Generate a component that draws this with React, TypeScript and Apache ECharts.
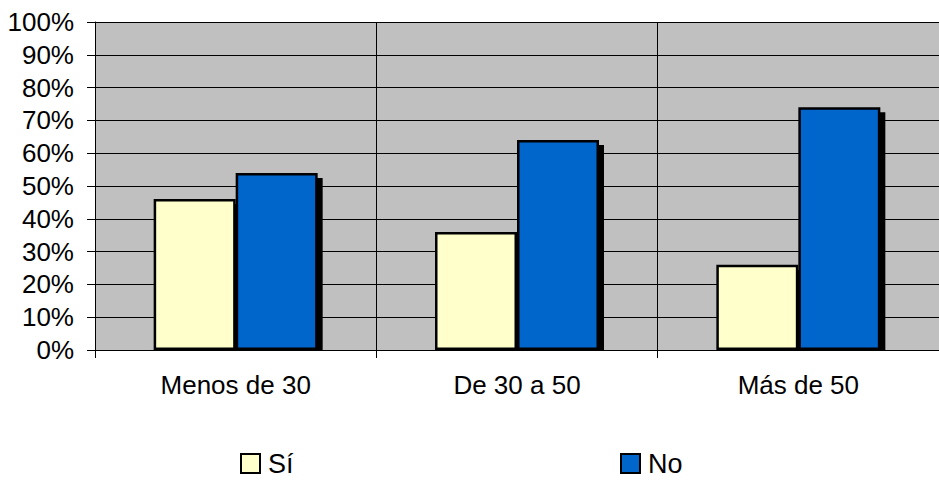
import React, { useEffect, useRef } from "react";
import * as echarts from "echarts";

const categories = ["Menos de 30", "De 30 a 50", "Más de 50"];
const siValues = [46, 36, 26];
const noValues = [54, 64, 74];
const seriesNames = ["Sí", "No"];

export default function App() {
  const ref = useRef<HTMLDivElement>(null);
  useEffect(() => {
    if (!ref.current) return;
    const chart = echarts.init(ref.current, null, { renderer: "svg" });
    const font = "'Liberation Sans', Arial, sans-serif";
    const gridLeft = 95;
    const gridTop = 22;
    const gridHeight = 328;
    const barStyle = (color: string) => ({
      color,
      borderColor: "#000",
      borderWidth: 2.5,
      shadowColor: "#000",
      shadowOffsetX: 5,
      shadowOffsetY: 5,
      shadowBlur: 0,
    });
    const legendBase = {
      top: 450,
      padding: 0,
      itemWidth: 19,
      itemHeight: 19,
      icon: "rect",
      itemStyle: { borderColor: "#000", borderWidth: 2, shadowColor: "transparent" },
      textStyle: { fontSize: 27, lineHeight: 27, color: "#000", fontFamily: font, padding: [0, 0, 0, 3] },
    };
    chart.setOption({
      animation: false,
      textStyle: { fontFamily: font },
      grid: {
        left: gridLeft,
        top: gridTop,
        width: 852,
        height: gridHeight,
        containLabel: false,
        show: true,
        backgroundColor: "#C0C0C0",
        borderWidth: 0,
      },
      legend: [
        { ...legendBase, left: 240, data: [seriesNames[0]] },
        { ...legendBase, left: 620, data: [seriesNames[1]] },
      ],
      graphic: [
        {
          type: "rect",
          z: 5,
          silent: true,
          shape: { x: gridLeft + 1, y: gridTop + gridHeight + 1, width: 939, height: 9 },
          style: { fill: "#fff" },
        },
      ],
      xAxis: {
        type: "category",
        data: categories,
        z: 10,
        axisLine: { lineStyle: { color: "#000", width: 1 } },
        axisTick: { show: true, length: 8, alignWithLabel: false, lineStyle: { color: "#000" } },
        axisLabel: { fontSize: 26, color: "#000", margin: 22, fontFamily: font },
        splitLine: { show: true, lineStyle: { color: "#000", width: 1 } },
      },
      yAxis: {
        type: "value",
        min: 0,
        max: 100,
        interval: 10,
        axisLine: { show: true, lineStyle: { color: "#000", width: 1 } },
        axisTick: { show: true, length: 8, lineStyle: { color: "#000" } },
        axisLabel: { formatter: "{value}%", fontSize: 26, color: "#000", margin: 21, fontFamily: font },
        splitLine: { show: true, lineStyle: { color: "#000", width: 1 } },
      },
      series: [
        {
          name: seriesNames[0],
          type: "bar",
          data: siValues,
          barWidth: 82,
          barGap: "0%",
          itemStyle: barStyle("#FFFFCC"),
        },
        {
          name: seriesNames[1],
          type: "bar",
          data: noValues,
          barWidth: 82,
          barGap: "0%",
          itemStyle: barStyle("#0066CC"),
        },
      ],
    });
    return () => chart.dispose();
  }, []);
  return <div ref={ref} style={{ width: 939, height: 480, position: "absolute", left: 0, top: 0 }} />;
}
